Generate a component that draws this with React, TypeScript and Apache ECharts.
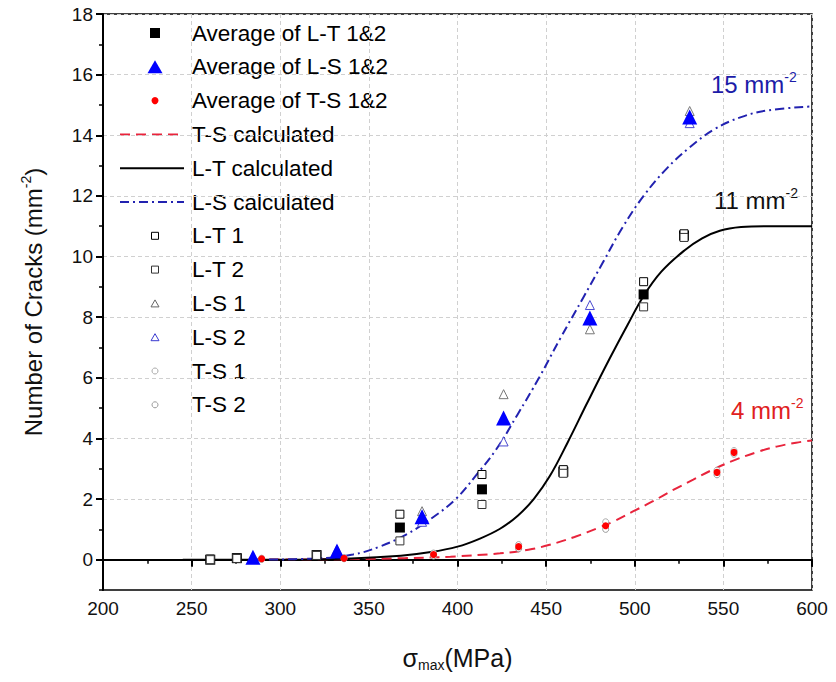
import React, { useEffect, useRef } from "react";
import * as echarts from "echarts";

// ---- data ----
const ltAvg = [[260.5, 0.0], [275.5, 0.05], [320.5, 0.15], [367.5, 1.06], [413.8, 2.32], [459.7, 2.9], [505, 8.75], [527.8, 10.69]];
const lsAvg = [[284.6, 0.08], [332, 0.29], [380, 1.42], [426, 4.67], [474.7, 7.97], [531, 14.6]];
const tsAvg = [[289.5, 0.03], [336, 0.05], [386.5, 0.17], [434.5, 0.43], [483.6, 1.12], [546.4, 2.88], [556, 3.54]];

const lt1 = [[260.5, 0.02], [275.5, 0.06], [320.5, 0.16], [367.5, 1.5], [413.8, 2.81], [459.7, 2.97], [505, 9.17], [527.8, 10.75]];
const lt2 = [[260.5, 0.0], [275.5, 0.04], [320.5, 0.14], [367.5, 0.62], [413.8, 1.82], [459.7, 2.85], [505, 8.34], [527.8, 10.63]];
const ls1 = [[284.6, 0.1], [332, 0.33], [380, 1.6], [426, 5.46], [474.7, 7.6], [531, 14.8]];
const ls2 = [[284.6, 0.05], [332, 0.25], [380, 1.25], [426, 3.9], [474.7, 8.4], [531, 14.4]];
const ts1 = [[289.5, 0.05], [336, 0.07], [386.5, 0.22], [434.5, 0.5], [483.6, 1.25], [546.4, 2.95], [556, 3.6]];
const ts2 = [[289.5, 0.01], [336, 0.03], [386.5, 0.12], [434.5, 0.36], [483.6, 1.0], [546.4, 2.8], [556, 3.48]];

const tsCalc = [[285, 0], [340, 0.02], [370, 0.05], [396, 0.1], [424, 0.21], [440, 0.33], [452, 0.49], [466, 0.75], [480, 1.06], [488, 1.26], [499, 1.59], [510, 1.92], [522, 2.31], [533, 2.64], [544, 2.97], [557, 3.3], [569, 3.55], [580, 3.73], [591, 3.86], [600, 3.93]];
const ltCalc = [[245, 0], [300, 0.0], [340, 0.04], [368, 0.13], [385, 0.25], [400, 0.43], [412, 0.68], [424, 1.02], [434, 1.45], [443, 2.0], [452, 2.75], [462, 3.85], [473, 5.15], [486, 6.65], [496, 7.75], [505, 8.7], [515, 9.5], [528, 10.2], [538, 10.6], [548, 10.85], [560, 10.97], [575, 11.0], [600, 11.0]];
const lsCalc = [[283, 0], [320, 0.04], [341, 0.17], [356, 0.43], [371, 0.83], [385, 1.35], [399, 2.0], [410, 2.75], [422, 3.65], [434, 4.8], [446, 6.0], [458, 7.3], [471, 8.65], [482, 9.8], [493, 10.95], [505, 12.0], [518, 12.9], [531, 13.6], [545, 14.2], [560, 14.6], [575, 14.82], [600, 14.95]];

const yMajorTicks = [0, 2, 4, 6, 8, 10, 12, 14, 16, 18];
const yMinorTicks = [-1, 1, 3, 5, 7, 9, 11, 13, 15, 17];

const legendNames = [
  "Average of L-T 1&2",
  "Average of L-S 1&2",
  "Average of T-S 1&2",
  "T-S calculated",
  "L-T calculated",
  "L-S calculated",
  "L-T 1",
  "L-T 2",
  "L-S 1",
  "L-S 2",
  "T-S 1",
  "T-S 2",
];

const FONT = "'Liberation Sans', Arial, sans-serif";
const RED_LINE = "#e8243c";
const BLUE_LINE = "#2222b0";

function legendGraphics() {
  const els: any[] = [];
  const top = 33;
  const step = 33.8;
  const mx = 155;
  legendNames.forEach((name, i) => {
    const y = top + i * step;
    els.push({
      type: "text",
      left: 192,
      top: y - 13,
      silent: true,
      style: { text: name, fontSize: 22.5, lineHeight: 26, fontFamily: FONT, fill: "#000" },
    });
    const tri = (w: number, h: number, fill: string, stroke: string, lw: number) => ({
      type: "polygon",
      silent: true,
      shape: { points: [[mx, y - h / 2], [mx + w / 2, y + h / 2], [mx - w / 2, y + h / 2]] },
      style: { fill, stroke, lineWidth: lw },
    });
    const sq = (s: number, fill: string, stroke: string, lw: number) => ({
      type: "rect",
      silent: true,
      shape: { x: mx - s / 2, y: y - s / 2, width: s, height: s },
      style: { fill, stroke, lineWidth: lw },
    });
    const circ = (r: number, fill: string, stroke: string, lw: number) => ({
      type: "circle",
      silent: true,
      shape: { cx: mx, cy: y, r },
      style: { fill, stroke, lineWidth: lw },
    });
    const ln = (stroke: string, dash: any) => ({
      type: "line",
      silent: true,
      shape: { x1: 120, y1: y, x2: 184, y2: y },
      style: { stroke, lineWidth: 2, lineDash: dash },
    });
    switch (i) {
      case 0: els.push(sq(10, "#000", "#000", 0)); break;
      case 1: els.push(tri(15, 13, "#0000ff", "#0000ff", 0)); break;
      case 2: els.push(circ(3.5, "#ff0000", "#ff0000", 0)); break;
      case 3: els.push(ln(RED_LINE, [10, 6])); break;
      case 4: els.push(ln("#000", null)); break;
      case 5: els.push(ln(BLUE_LINE, [9, 4, 2, 4])); break;
      case 6: els.push(sq(7, "#fff", "#000", 1)); break;
      case 7: els.push(sq(7, "#fff", "#333", 1)); break;
      case 8: els.push(tri(8, 7, "#fff", "#666", 1)); break;
      case 9: els.push(tri(8, 7, "#fff", "#3a3ad0", 1)); break;
      case 10: els.push(circ(3, "#fff", "#aaa", 1)); break;
      case 11: els.push(circ(3, "#fff", "#999", 1)); break;
    }
  });
  return els;
}

function noteText(text: string, left: number, top: number, color: string) {
  return {
    type: "text",
    left,
    top,
    silent: true,
    style: {
      text,
      rich: {
        a: { fontSize: 24, lineHeight: 28, fill: color, fontFamily: FONT },
        s: { fontSize: 14, lineHeight: 14, verticalAlign: "top", fill: color, fontFamily: FONT },
      },
    },
  };
}

export default function App() {
  const ref = useRef<HTMLDivElement>(null);
  useEffect(() => {
    if (!ref.current) return;
    const chart = echarts.init(ref.current, null, { renderer: "svg" });
    const scatter = (name: string, data: number[][], symbol: string, size: number, fill: string, border: string, bw: number, z: number) => ({
      name,
      type: "scatter",
      data,
      symbol,
      symbolSize: size,
      z,
      itemStyle: { color: fill, borderColor: border, borderWidth: bw, opacity: 1 },
      emphasis: { disabled: true },
    });
    const line = (name: string, data: number[][], color: string, type: any, z: number) => ({
      name,
      type: "line",
      data,
      symbol: "none",
      smooth: 0.4,
      z,
      lineStyle: { color, width: 2, type },
      itemStyle: { color },
      emphasis: { disabled: true },
    });
    chart.setOption({
      animation: false,
      backgroundColor: "#fff",
      textStyle: { fontFamily: FONT },
      grid: { left: 103, right: 24, top: 14, bottom: 92, show: true, borderColor: "#000", borderWidth: 1.5, backgroundColor: "transparent" },
      xAxis: {
        type: "value",
        min: 200,
        max: 600,
        interval: 50,
        name: "{g|σ}{s|max}{g|(MPa)}",
        nameLocation: "middle",
        nameGap: 54,
        nameTextStyle: {
          rich: {
            g: { fontSize: 25, lineHeight: 28, color: "#111", fontFamily: FONT },
            s: { fontSize: 14, lineHeight: 14, verticalAlign: "bottom", color: "#111", fontFamily: FONT },
          },
        },
        axisLine: { show: true, lineStyle: { color: "#000", width: 2 } },
        axisTick: { show: true, length: 7, lineStyle: { color: "#000", width: 2 } },
        minorTick: { show: true, splitNumber: 2, length: 4, lineStyle: { color: "#000", width: 1.5 } },
        axisLabel: { fontSize: 19, color: "#111", margin: 9, fontFamily: FONT },
        splitLine: { show: true, lineStyle: { color: "#d0d0d0", width: 1, type: [4, 3] } },
      },
      yAxis: [
        {
          type: "value",
          min: -1,
          max: 18,
          name: "{t|Number of Cracks (mm}{s|-2}{t|)}",
          nameLocation: "middle",
          nameGap: 56,
          nameTextStyle: {
            rich: {
              t: { fontSize: 24, lineHeight: 28, color: "#111", fontFamily: FONT },
              s: { fontSize: 14, lineHeight: 14, verticalAlign: "top", color: "#111", fontFamily: FONT },
            },
          },
          axisLine: { show: true, lineStyle: { color: "#000", width: 2 } },
          axisTick: { show: true, length: 7, customValues: yMajorTicks, lineStyle: { color: "#000", width: 2 } },
          axisLabel: { fontSize: 19, color: "#111", margin: 10, customValues: yMajorTicks, fontFamily: FONT },
          splitLine: { show: true, lineStyle: { color: "#d0d0d0", width: 1, type: [4, 3] } },
        },
        {
          type: "value",
          min: -1,
          max: 18,
          position: "left",
          axisLine: { show: false },
          axisTick: { show: true, length: 4, customValues: yMinorTicks, lineStyle: { color: "#000", width: 1.5 } },
          axisLabel: { show: false },
          splitLine: { show: false },
        },
      ],
      graphic: [
        ...legendGraphics(),
        noteText("{a|15 mm}{s|-2}", 711, 70, "#1c1ca8"),
        noteText("{a|11 mm}{s|-2}", 714, 186, "#111"),
        noteText("{a|4 mm}{s|-2}", 731, 396, "#e02020"),
      ],
      series: [
        line("T-S calculated", tsCalc, RED_LINE, [10, 6], 2),
        line("L-T calculated", ltCalc, "#000000", "solid", 2),
        line("L-S calculated", lsCalc, BLUE_LINE, [9, 4, 2, 4], 2),
        scatter("T-S 1", ts1, "circle", 6, "#fff", "#aaa", 1, 3),
        scatter("T-S 2", ts2, "circle", 6, "#fff", "#999", 1, 3),
        scatter("L-S 1", ls1, "triangle", 9, "#fff", "#777", 1, 3),
        scatter("L-S 2", ls2, "triangle", 9, "#fff", "#4a4ad0", 1, 3),
        scatter("Average of L-T 1&2", ltAvg, "rect", 10, "#000", "#000", 0, 4),
        scatter("Average of L-S 1&2", lsAvg, "triangle", 15, "#0000ff", "#0000ff", 0, 4),
        scatter("Average of T-S 1&2", tsAvg, "circle", 7, "#ff0000", "#ff0000", 0, 4),
        scatter("L-T 1", lt1, "rect", 8, "#fff", "#000", 1, 5),
        scatter("L-T 2", lt2, "rect", 8, "#fff", "#333", 1, 5),
      ],
    });
    return () => chart.dispose();
  }, []);
  return <div ref={ref} style={{ position: "fixed", left: 0, top: 0, width: 836, height: 682 }} />;
}
